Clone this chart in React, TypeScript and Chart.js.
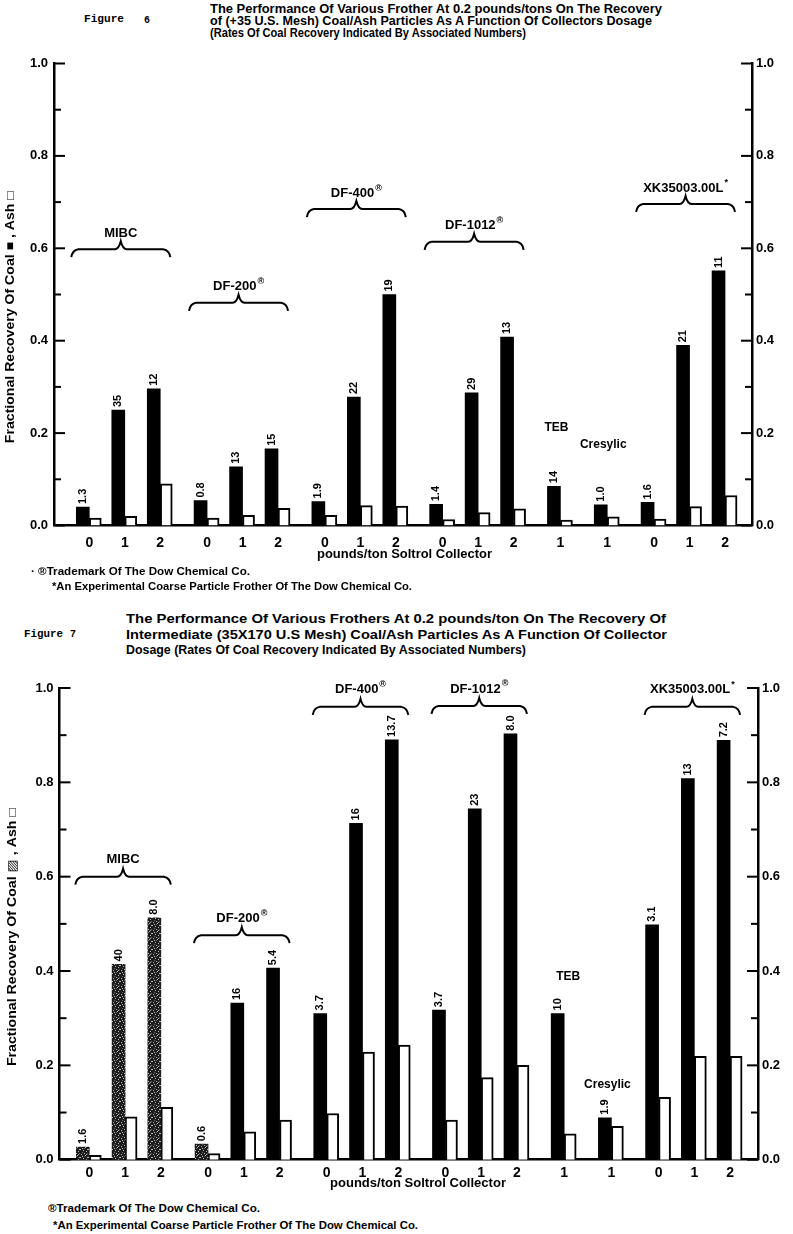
import React, { useEffect, useLayoutEffect, useRef } from "react";
import { Chart, registerables } from "chart.js";

Chart.register(...registerables);

const FONT = "'Liberation Sans', Arial, 'DejaVu Sans', sans-serif";
const MONO = "'Liberation Mono', 'DejaVu Sans Mono', monospace";

// ---------------- data ----------------
const doseLabels = ["0", "1", "2", "0", "1", "2", "0", "1", "2", "0", "1", "2", "1", "1", "0", "1", "2"];
const frotherOfBar = [0, 0, 0, 1, 1, 1, 2, 2, 2, 3, 3, 3, 4, 5, 6, 6, 6];
const frotherNames = ["MIBC", "DF-200", "DF-400", "DF-1012", "TEB", "Cresylic", "XK35003.00L"];

const fig6Coal = [0.040, 0.250, 0.296, 0.054, 0.127, 0.166, 0.052, 0.278, 0.500, 0.046, 0.287, 0.408, 0.085, 0.045, 0.050, 0.390, 0.551];
const fig6Ash = [0.016, 0.020, 0.090, 0.016, 0.022, 0.037, 0.022, 0.043, 0.042, 0.013, 0.028, 0.036, 0.012, 0.019, 0.014, 0.041, 0.065];
const fig6Rates = ["1.3", "35", "12", "0.8", "13", "15", "1.9", "22", "19", "1.4", "29", "13", "14", "1.0", "1.6", "21", "11"];

const fig7Coal = [0.027, 0.414, 0.513, 0.033, 0.332, 0.406, 0.310, 0.713, 0.890, 0.317, 0.744, 0.903, 0.310, 0.089, 0.498, 0.808, 0.889];
const fig7Ash = [0.009, 0.091, 0.111, 0.013, 0.059, 0.084, 0.098, 0.228, 0.243, 0.084, 0.174, 0.200, 0.055, 0.071, 0.132, 0.219, 0.219];
const fig7Rates = ["1.6", "40", "8.0", "0.6", "16", "5.4", "3.7", "16", "13.7", "3.7", "23", "8.0", "10", "1.9", "3.1", "13", "7.2"];

const yTickValues = [0, 0.1, 0.2, 0.3, 0.4, 0.5, 0.6, 0.7, 0.8, 0.9, 1.0];

const fig6Title = [
  "The Performance Of Various Frother At 0.2 pounds/tons On The Recovery",
  "of (+35 U.S. Mesh) Coal/Ash Particles As A Function Of Collectors Dosage",
  "(Rates Of Coal Recovery Indicated By Associated Numbers)",
];
const fig7Title = [
  "The Performance Of Various Frothers At 0.2 pounds/ton On The Recovery Of",
  "Intermediate (35X170 U.S  Mesh) Coal/Ash Particles As A Function Of  Collector",
  "Dosage (Rates Of Coal Recovery Indicated By Associated Numbers)",
];
const footTrademark = "Trademark Of The Dow Chemical Co.";
const footExperimental = "*An Experimental Coarse Particle Frother Of The Dow Chemical Co.";
const xAxisTitle = "pounds/ton Soltrol Collector";

// ---------------- layout / style ----------------
const GROUP_GAP = 0.32;
const xPos = doseLabels.map((_, i) => i + GROUP_GAP * frotherOfBar[i]);

type Brace = { group: number; level: number; sup?: string };
type FreeLabel = { group: number; level: number; dx: number };

type Spec = {
  top: number;
  height: number;
  coal: number[];
  ash: number[];
  rates: string[];
  stippled: number[];
  braces: Brace[];
  freeLabels: FreeLabel[];
  yTitle: string;
  yTitleCenter: number;
  yTitleLen: number;
  yTitleX: number;
  xMin: number;
  xMax: number;
  leftW: number;
  rightW: number;
  padTop: number;
  xHeight: number;
  xTickPad: number;
  braceL: number;
  braceR: number;
  braceLabelGap: number;
};

const fig6Spec: Spec = {
  top: 40,
  height: 516,
  coal: fig6Coal,
  ash: fig6Ash,
  rates: fig6Rates,
  stippled: [],
  braces: [
    { group: 0, level: 0.598 },
    { group: 1, level: 0.482, sup: "®" },
    { group: 2, level: 0.685, sup: "®" },
    { group: 3, level: 0.614, sup: "®" },
    { group: 6, level: 0.696, sup: "*" },
  ],
  freeLabels: [
    { group: 4, level: 0.211, dx: -4 },
    { group: 5, level: 0.176, dx: -4 },
  ],
  yTitle: "Fractional Recovery Of Coal ■ , Ash □",
  yTitleCenter: 0.451,
  yTitleLen: 252,
  yTitleX: 11,
  xMin: -0.995,
  xMax: 18.68,
  leftW: 54,
  rightW: 41,
  padTop: 23.5,
  xHeight: 30.5,
  xTickPad: 9,
  braceL: 18,
  braceR: 10,
  braceLabelGap: 16,
};

const fig7Spec: Spec = {
  top: 665,
  height: 525,
  coal: fig7Coal,
  ash: fig7Ash,
  rates: fig7Rates,
  stippled: [0, 1, 2, 3],
  braces: [
    { group: 0, level: 0.600 },
    { group: 1, level: 0.476, sup: "®" },
    { group: 2, level: 0.960, sup: "®" },
    { group: 3, level: 0.962, sup: "®" },
    { group: 6, level: 0.960, sup: "*" },
  ],
  freeLabels: [
    { group: 4, level: 0.388, dx: 4 },
    { group: 5, level: 0.158, dx: -4 },
  ],
  yTitle: "Fractional Recovery Of Coal ▨ , Ash □",
  yTitleCenter: 0.472,
  yTitleLen: 258,
  yTitleX: 12.5,
  xMin: -0.834,
  xMax: 18.70,
  leftW: 59.5,
  rightW: 35,
  padTop: 23,
  xHeight: 30.3,
  xTickPad: 5,
  braceL: 14,
  braceR: 10,
  braceLabelGap: 17,
};

function makeStipple(): CanvasPattern | string {
  const c = document.createElement("canvas");
  c.width = 8;
  c.height = 8;
  const g = c.getContext("2d");
  if (!g) return "#222";
  g.fillStyle = "#1c1c1c";
  g.fillRect(0, 0, 8, 8);
  const light = [[1, 1], [5, 2], [3, 5], [6, 6], [0, 4], [4, 0], [2, 3], [7, 4], [6, 1]];
  g.fillStyle = "#b8b8b8";
  light.forEach(([x, y]) => g.fillRect(x, y, 1, 1));
  g.fillStyle = "#6a6a6a";
  [[2, 7], [7, 0], [4, 3]].forEach(([x, y]) => g.fillRect(x, y, 1, 1));
  const p = g.createPattern(c, "repeat");
  return p || "#222";
}

function drawBrace(ctx: CanvasRenderingContext2D, x0: number, x1: number, y: number) {
  const xm = (x0 + x1) / 2;
  ctx.beginPath();
  ctx.moveTo(x0, y + 8);
  ctx.quadraticCurveTo(x0 + 1, y + 1, x0 + 7, y);
  ctx.lineTo(xm - 6, y);
  ctx.quadraticCurveTo(xm - 2, y, xm, y - 8);
  ctx.quadraticCurveTo(xm + 2, y, xm + 6, y);
  ctx.lineTo(x1 - 7, y);
  ctx.quadraticCurveTo(x1 - 1, y + 1, x1, y + 8);
  ctx.stroke();
}

function makeDecor(spec: Spec) {
  return {
    id: "decor",
    afterDraw(chart: any) {
      const { ctx, chartArea, scales } = chart;
      const ys = scales.y;
      const y2 = scales.y2;
      const xs = scales.x;
      ctx.save();
      ctx.strokeStyle = "#000";
      ctx.fillStyle = "#000";
      ctx.lineWidth = 2;
      // inner tick marks on both value axes
      yTickValues.forEach((v, k) => {
        const len = k % 2 === 0 ? 11 : 7;
        const p1 = ys.getPixelForValue(v);
        ctx.beginPath();
        ctx.moveTo(chartArea.left, p1);
        ctx.lineTo(chartArea.left + len, p1);
        ctx.stroke();
        const p2 = y2.getPixelForValue(v);
        ctx.beginPath();
        ctx.moveTo(chartArea.right, p2);
        ctx.lineTo(chartArea.right - len, p2);
        ctx.stroke();
      });
      // rate labels above coal bars
      const meta = chart.getDatasetMeta(0);
      ctx.font = `bold 11px ${FONT}`;
      ctx.textAlign = "left";
      ctx.textBaseline = "middle";
      meta.data.forEach((el: any, i: number) => {
        ctx.save();
        ctx.translate(el.x, el.y - 3);
        ctx.rotate(-Math.PI / 2);
        ctx.fillText(spec.rates[i], 0, 0);
        ctx.restore();
      });
      // braces with frother names
      spec.braces.forEach((b) => {
        const idx = frotherOfBar.map((g, i) => (g === b.group ? i : -1)).filter((i) => i >= 0);
        const x0 = xs.getPixelForValue(xPos[idx[0]]) - spec.braceL;
        const x1 = xs.getPixelForValue(xPos[idx[idx.length - 1]]) + spec.braceR;
        const y = ys.getPixelForValue(b.level);
        ctx.lineWidth = 2;
        drawBrace(ctx, x0, x1, y);
        const name = frotherNames[b.group];
        ctx.font = `bold 13px ${FONT}`;
        const w1 = ctx.measureText(name).width;
        ctx.font = `bold 9px ${FONT}`;
        const w2 = b.sup ? ctx.measureText(b.sup).width + 1 : 0;
        const cx = (x0 + x1) / 2;
        const start = cx - (w1 + w2) / 2;
        const ly = y - spec.braceLabelGap;
        ctx.textAlign = "left";
        ctx.textBaseline = "middle";
        ctx.font = `bold 13px ${FONT}`;
        ctx.fillText(name, start, ly);
        if (b.sup) {
          ctx.font = `bold 9px ${FONT}`;
          ctx.fillText(b.sup, start + w1 + 1, ly - 5);
        }
      });
      // free labels (single-bar frothers)
      spec.freeLabels.forEach((f) => {
        const i = frotherOfBar.indexOf(f.group);
        const x = xs.getPixelForValue(xPos[i]) + f.dx;
        const y = ys.getPixelForValue(f.level);
        ctx.font = `bold 12px ${FONT}`;
        ctx.textAlign = "center";
        ctx.textBaseline = "middle";
        ctx.fillText(frotherNames[f.group], x, y);
      });
      // y axis title (rotated), fitted to its length
      ctx.font = `bold 12px ${FONT}`;
      const tw = ctx.measureText(spec.yTitle).width;
      ctx.save();
      ctx.translate(spec.yTitleX, ys.getPixelForValue(spec.yTitleCenter));
      ctx.rotate(-Math.PI / 2);
      ctx.scale(spec.yTitleLen / tw, 1);
      ctx.textAlign = "center";
      ctx.textBaseline = "middle";
      ctx.fillText(spec.yTitle, 0, 0);
      ctx.restore();
      ctx.restore();
    },
  };
}

function buildChart(canvas: HTMLCanvasElement, spec: Spec): Chart {
  const stipple = makeStipple();
  const coalColors = spec.coal.map((_, i) => (spec.stippled.includes(i) ? stipple : "#000"));
  const yTickCb = (v: any) => {
    const k = Math.round(Number(v) * 10);
    return k % 2 === 0 ? (k / 10).toFixed(1) : "";
  };
  const tickFont = { family: FONT, size: 13, weight: "bold" as const };
  return new Chart(canvas, {
    type: "bar",
    data: {
      datasets: [
        {
          label: "Coal",
          data: xPos.map((x, i) => ({ x, y: spec.coal[i] })),
          backgroundColor: coalColors as any,
          borderWidth: 0,
          barThickness: 13,
        },
        {
          label: "Ash",
          data: xPos.map((x, i) => ({ x, y: spec.ash[i] })),
          backgroundColor: "#fff",
          borderColor: "#000",
          borderWidth: 2,
          barThickness: 12,
        },
      ],
    },
    options: {
      animation: false,
      responsive: false,
      maintainAspectRatio: false,
      layout: { padding: { top: spec.padTop, left: 0, right: 0, bottom: 0 } },
      plugins: { legend: { display: false }, tooltip: { enabled: false } },
      scales: {
        x: {
          type: "linear",
          offset: false,
          min: spec.xMin,
          max: spec.xMax,
          grid: { display: false, drawTicks: false, tickLength: 0 },
          border: { display: true, color: "#000", width: 2.5 },
          afterBuildTicks: (s: any) => {
            s.ticks = xPos.map((v) => ({ value: v }));
          },
          afterFit: (s: any) => {
            s.height = spec.xHeight;
          },
          ticks: {
            autoSkip: false,
            maxRotation: 0,
            padding: spec.xTickPad,
            color: "#000",
            font: { family: FONT, size: 14, weight: "bold" },
            callback: (_v: any, i: number) => doseLabels[i],
          },
        },
        y: {
          position: "left",
          min: 0,
          max: 1,
          grid: { display: false, drawTicks: false, tickLength: 0 },
          border: { display: true, color: "#000", width: 2.5 },
          afterFit: (s: any) => {
            s.width = spec.leftW;
          },
          ticks: { stepSize: 0.1, autoSkip: false, padding: 6, color: "#000", font: tickFont, callback: yTickCb },
        },
        y2: {
          position: "right",
          min: 0,
          max: 1,
          grid: { display: false, drawTicks: false, tickLength: 0 },
          border: { display: true, color: "#000", width: 2.5 },
          afterFit: (s: any) => {
            s.width = spec.rightW;
          },
          ticks: { stepSize: 0.1, autoSkip: false, padding: 4, color: "#000", font: tickFont, callback: yTickCb },
        },
      },
    },
    plugins: [makeDecor(spec)],
  } as any);
}

function FitText(props: { text: string; x: number; y: number; w: number; size: number; mono?: boolean }) {
  const ref = useRef<HTMLSpanElement>(null);
  useLayoutEffect(() => {
    const el = ref.current;
    if (!el) return;
    el.style.transform = "none";
    const actual = el.getBoundingClientRect().width;
    if (actual > 0) el.style.transform = `scaleX(${props.w / actual})`;
  }, [props.text, props.w]);
  return (
    <span
      ref={ref}
      style={{
        position: "absolute",
        left: props.x,
        top: props.y - props.size * 0.6,
        fontSize: props.size,
        lineHeight: `${props.size * 1.2}px`,
        fontFamily: props.mono ? MONO : FONT,
        fontWeight: "bold",
        whiteSpace: "nowrap",
        transformOrigin: "0 50%",
        color: "#000",
      }}
    >
      {props.text}
    </span>
  );
}

function ChartCanvas({ spec }: { spec: Spec }) {
  const ref = useRef<HTMLCanvasElement>(null);
  useEffect(() => {
    if (!ref.current) return;
    const chart = buildChart(ref.current, spec);
    return () => chart.destroy();
  }, [spec]);
  return (
    <canvas
      ref={ref}
      width={793}
      height={spec.height}
      style={{ position: "absolute", left: 0, top: spec.top, width: 793, height: spec.height }}
    />
  );
}

export default function App() {
  return (
    <div style={{ position: "absolute", left: 0, top: 0, width: 793, height: 1234, background: "#fff", overflow: "hidden" }}>
      {/* Figure 6 header */}
      <FitText text="Figure" x={84} y={20} w={40} size={11} mono />
      <FitText text="6" x={144} y={21} w={6} size={11} mono />
      <FitText text={fig6Title[0]} x={210} y={9} w={452} size={12} />
      <FitText text={fig6Title[1]} x={210} y={21.5} w={442} size={12} />
      <FitText text={fig6Title[2]} x={210} y={33.5} w={316} size={12} />
      <ChartCanvas spec={fig6Spec} />
      <FitText text={xAxisTitle} x={317} y={554} w={175} size={12} />
      <FitText text={"· ®" + footTrademark} x={31} y={572} w={219} size={10} />
      <FitText text={footExperimental} x={52} y={587} w={360} size={10} />

      {/* Figure 7 header */}
      <FitText text="Figure" x={24} y={635} w={39} size={11} mono />
      <FitText text="7" x={70} y={635} w={6} size={11} mono />
      <FitText text={fig7Title[0]} x={126} y={619} w={540} size={12} />
      <FitText text={fig7Title[1]} x={126} y={635} w={541} size={12} />
      <FitText text={fig7Title[2]} x={126} y={650.5} w={400} size={12} />
      <ChartCanvas spec={fig7Spec} />
      <FitText text={xAxisTitle} x={330} y={1183} w={176} size={12} />
      <FitText text={"®" + footTrademark} x={48} y={1209} w={212} size={10} />
      <FitText text={footExperimental} x={53} y={1226} w={365} size={10} />
    </div>
  );
}
